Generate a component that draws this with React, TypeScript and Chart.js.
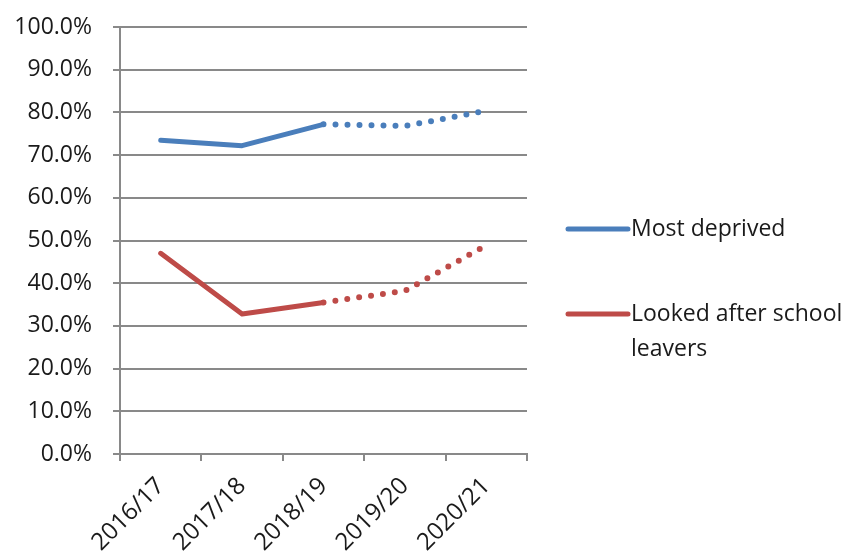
import React, { useEffect, useRef } from "react";
import { Chart, registerables } from "chart.js";

Chart.register(...registerables);

const categories = ["2016/17", "2017/18", "2018/19", "2019/20", "2020/21"];
const seriesNames = ["Most deprived", "Looked after school leavers"];
const mostDeprived = [73.5, 72.2, 77.2, 76.8, 80.4];
const lookedAfter = [47.0, 32.8, 35.5, 38.2, 48.9];
const seriesColors = ["#4A7EBB", "#BE4B48"];
const yTicksMin = 0;
const yTicksMax = 100;
const yTicksStep = 10;
const projectedFromIndex = 2;

const FONT = "'Open Sans', sans-serif";

const legendPlugin = {
  id: "sideLegend",
  afterDraw(chart: any) {
    const ctx = chart.ctx;
    const x0 = 568;
    const x1 = 628;
    const tx = 631;
    const maxW = 856 - tx - 2;
    const lineH = 35;
    const starts = [229, 314];
    ctx.save();
    ctx.font = `23px ${FONT}`;
    ctx.textBaseline = "middle";
    ctx.textAlign = "left";
    chart.data.datasets.forEach((ds: any, i: number) => {
      const y = starts[i];
      ctx.strokeStyle = ds.borderColor;
      ctx.lineWidth = 5;
      ctx.lineCap = "round";
      ctx.beginPath();
      ctx.moveTo(x0, y);
      ctx.lineTo(x1, y);
      ctx.stroke();
      const words = String(ds.label).split(" ");
      const lines: string[] = [];
      let cur = "";
      for (const w of words) {
        const t = cur ? cur + " " + w : w;
        if (ctx.measureText(t).width > maxW && cur) {
          lines.push(cur);
          cur = w;
        } else cur = t;
      }
      if (cur) lines.push(cur);
      ctx.fillStyle = "#1a1a1a";
      lines.forEach((l, k) => ctx.fillText(l, tx, y + k * lineH));
    });
    ctx.restore();
  },
};

export default function App() {
  const ref = useRef<HTMLCanvasElement>(null);
  useEffect(() => {
    if (!ref.current) return;
    const projected = (c: any) => c.p0DataIndex >= projectedFromIndex;
    const segment = {
      borderDash: (c: any) => (projected(c) ? [0, 12] : undefined),
      borderWidth: (c: any) => (projected(c) ? 6 : 5),
    };
    const chart = new Chart(ref.current, {
      type: "line",
      data: {
        labels: categories,
        datasets: [
          {
            label: seriesNames[0],
            data: mostDeprived,
            borderColor: seriesColors[0],
            backgroundColor: seriesColors[0],
            borderWidth: 5,
            borderCapStyle: "round",
            borderJoinStyle: "round",
            pointRadius: 0,
            tension: 0,
            segment,
          },
          {
            label: seriesNames[1],
            data: lookedAfter,
            borderColor: seriesColors[1],
            backgroundColor: seriesColors[1],
            borderWidth: 5,
            borderCapStyle: "round",
            borderJoinStyle: "round",
            pointRadius: 0,
            tension: 0,
            segment,
          },
        ],
      },
      options: {
        animation: false,
        responsive: false,
        maintainAspectRatio: false,
        layout: { padding: { top: 27, right: 329, left: 0, bottom: 0 } },
        plugins: { legend: { display: false }, tooltip: { enabled: false } },
        scales: {
          x: {
            offset: true,
            grid: {
              offset: true,
              drawOnChartArea: false,
              drawTicks: true,
              tickLength: 7,
              color: "#898989",
              lineWidth: 2,
            },
            border: { color: "#898989", width: 2 },
            ticks: {
              maxRotation: 45,
              minRotation: 45,
              color: "#1a1a1a",
              font: { family: FONT, size: 24 },
              padding: 11,
            },
            afterFit: (s: any) => {
              s.height = 104;
            },
          },
          y: {
            min: yTicksMin,
            max: yTicksMax,
            ticks: {
              stepSize: yTicksStep,
              color: "#1a1a1a",
              font: { family: FONT, size: 23 },
              padding: 21,
              callback: (v: any) => Number(v).toFixed(1) + "%",
            },
            grid: { color: "#898989", lineWidth: 2, tickLength: 7 },
            border: { color: "#898989", width: 2 },
            afterFit: (s: any) => {
              s.width = 120;
              s.paddingTop = 0;
              s.paddingBottom = 0;
            },
          },
        },
      },
      plugins: [legendPlugin],
    });
    return () => chart.destroy();
  }, []);
  return (
    <div style={{ position: "fixed", left: 0, top: 0, width: 856, height: 558, background: "#fff" }}>
      <canvas ref={ref} width={856} height={558} style={{ width: 856, height: 558 }} />
    </div>
  );
}
